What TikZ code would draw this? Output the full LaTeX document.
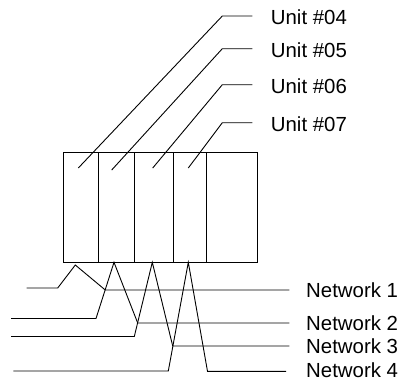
\documentclass[tikz,border=0pt]{standalone}
\usepackage{fontspec}
\setmainfont{Liberation Sans}
\begin{document}
\begin{tikzpicture}[x=1pt,y=-1pt,
  wire/.style={line width=0.9pt, line join=miter},
  lbl/.style={anchor=base west, inner sep=0pt, font=\fontsize{20.4}{24}\selectfont}]
\useasboundingbox (0,0) rectangle (401,381);
% rack
\draw[wire] (63,152.3) rectangle (257.3,262.3);
\foreach \x in {98.7,134.5,173.2,206.3}
  \draw[wire] (\x,152.3) -- (\x,262.3);
% unit leaders
\coordinate (s4) at (78.3,168);   \coordinate (c4) at (222.3,16);    \coordinate (e4) at (252.3,16);
\coordinate (s5) at (111.7,170);  \coordinate (c5) at (222.3,48.7);  \coordinate (e5) at (252.3,48.7);
\coordinate (s6) at (152.7,168);  \coordinate (c6) at (222.3,84.7);  \coordinate (e6) at (252.3,84.7);
\coordinate (s7) at (188.3,168);  \coordinate (c7) at (222.3,122.7); \coordinate (e7) at (252.3,122.7);
\draw[wire] (s4) -- (c4) -- (e4);
\draw[wire] (s5) -- (c5) -- (e5);
\draw[wire] (s6) -- (c6) -- (e6);
\draw[wire] (s7) -- (c7) -- (e7);
\node[lbl] (u4) at (270.7,24.5) {Unit \#04};
\node[lbl] (u5) at (270.7,57.5) {Unit \#05};
\node[lbl] (u6) at (270.7,93.5) {Unit \#06};
\node[lbl] (u7) at (270.7,131) {Unit \#07};
% network connections
\coordinate (a1) at (75.3,265);   \coordinate (a2) at (114,262.3);
\coordinate (a3) at (152.3,262.3);\coordinate (a4) at (188.3,262.3);
\draw[wire] (26.7,288) -- (57.7,288) -- (a1) -- (105.3,290) -- (289.3,290);
\draw[wire] (11,318.5) -- (96,318.5) -- (a2) -- (137.7,323) -- (289.3,323);
\draw[wire] (11,336.5) -- (134.3,336.5) -- (a3) -- (172.7,346) -- (289.3,346);
\draw[wire] (13.3,371) -- (168.3,371) -- (a4) -- (207.5,371.3) -- (286,371.3);
\node[lbl] (n1) at (306,297.5) {Network 1};
\node[lbl] (n2) at (306,330) {Network 2};
\node[lbl] (n3) at (306,353.5) {Network 3};
\node[lbl] (n4) at (306,377.6) {Network 4};
\end{tikzpicture}
\end{document}
